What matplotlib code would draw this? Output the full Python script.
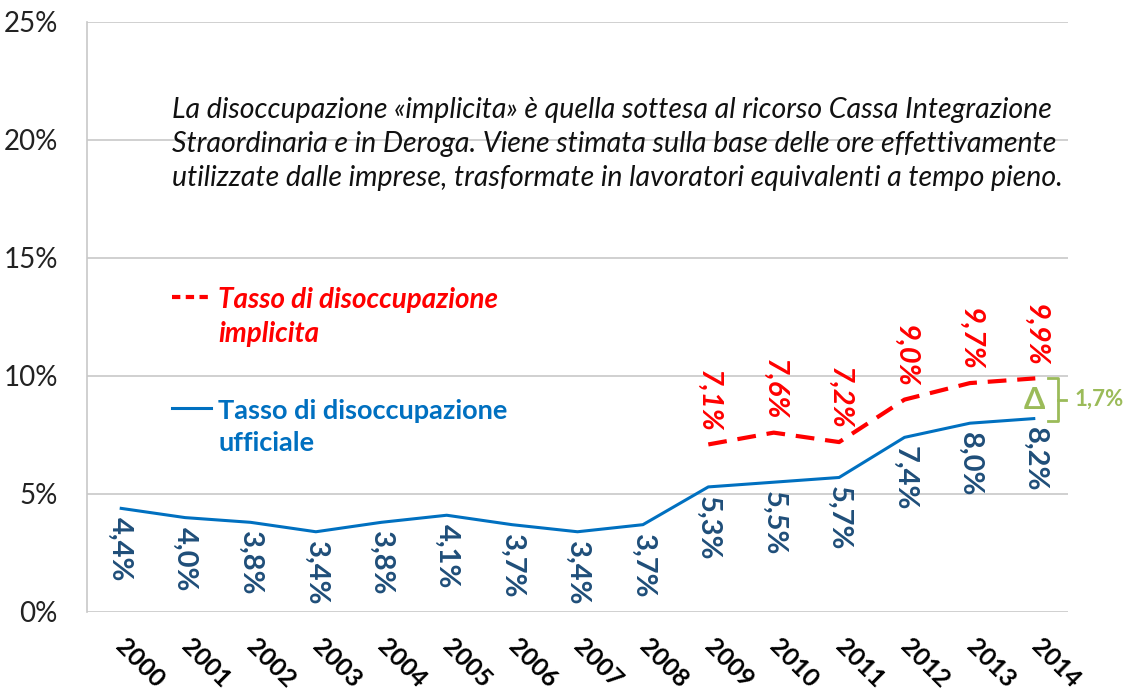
import matplotlib.pyplot as plt
from matplotlib.transforms import offset_copy

plt.rcParams['font.family'] = ['Lato', 'DejaVu Sans']

years = list(range(2000, 2015))
official = [4.4, 4.0, 3.8, 3.4, 3.8, 4.1, 3.7, 3.4, 3.7, 5.3, 5.5, 5.7, 7.4, 8.0, 8.2]
implicit_years = list(range(2009, 2015))
implicit = [7.1, 7.6, 7.2, 9.0, 9.7, 9.9]
gap_label = "1,7%"

BLUE = "#0070C0"
NAVY = "#1F4E79"
RED = "#FF0000"
GREEN = "#9BBB59"
GRID = "#C8C8C8"

W, H = 1136, 699


def pct(v):
    return f"{v:.1f}".replace(".", ",") + "%"


def fx(px):
    return px / W


def fy(py):
    return 1 - py / H


fig = plt.figure(figsize=(W / 100, H / 100), dpi=100)
ax = fig.add_axes([fx(87), fy(612), (1068 - 87) / W, (612 - 22) / H])

ax.plot(years, official, color=BLUE, lw=2.2, solid_capstyle="butt")
ax.plot(implicit_years, implicit, color=RED, lw=3, dashes=(4.5, 2.6))

ax.set_xlim(1999.5, 2014.5)
ax.set_ylim(0, 25)
ax.set_yticks(range(0, 26, 5))
ax.set_yticklabels([f"{t}%" for t in range(0, 26, 5)], fontsize=20, color="#222222")
ax.yaxis.grid(True, color=GRID, lw=1.2)
ax.set_axisbelow(True)
for side in ("top", "right", "bottom"):
    ax.spines[side].set_visible(False)
ax.spines["left"].set_color(GRID)
ax.spines["left"].set_linewidth(1.2)
ax.tick_params(length=0)
ax.tick_params(axis="y", pad=21)

ax.set_xticks(years)
ax.set_xticklabels([str(y) for y in years])
for lbl in ax.get_xticklabels():
    lbl.set_rotation(-45)
    lbl.set_rotation_mode("anchor")
    lbl.set_ha("left")
    lbl.set_va("center")
    lbl.set_fontsize(18)
    lbl.set_fontweight("bold")
    lbl.set_transform(offset_copy(lbl.get_transform(), fig=fig, x=-13, y=2, units="dots"))
ax.tick_params(axis="x", pad=22)

# value labels
for x, v in zip(years, official):
    ax.annotate(pct(v), (x, v), xytext=(0, -9), textcoords="offset pixels",
                rotation=-90, ha="center", va="top", color=NAVY,
                fontsize=21, fontweight="bold")
for x, v in zip(implicit_years, implicit):
    ax.annotate(pct(v), (x, v), xytext=(0, 12), textcoords="offset pixels",
                rotation=-90, ha="center", va="bottom", color=RED,
                fontsize=21, fontweight="bold", style="italic")

# note
fig.text(fx(172), fy(144),
         "La disoccupazione «implicita» è quella sottesa al ricorso Cassa Integrazione\n"
         "Straordinaria e in Deroga. Viene stimata sulla base delle ore effettivamente\n"
         "utilizzate dalle imprese, trasformate in lavoratori equivalenti a tempo pieno.",
         fontsize=20.5, style="italic", color="#111111",
         va="center", ha="left", linespacing=1.36)

# manual legend
fig.add_artist(plt.Line2D([fx(172), fx(211)], [fy(297)] * 2, color=RED, lw=3,
                          dashes=(2.0, 1.3)))
fig.text(fx(218), fy(317), "Tasso di disoccupazione\nimplicita", color=RED,
         fontsize=20, fontweight="bold", style="italic", va="center", ha="left",
         linespacing=1.36)
fig.add_artist(plt.Line2D([fx(172), fx(211)], [fy(408)] * 2, color=BLUE, lw=2.2))
fig.text(fx(218), fy(427), "Tasso di disoccupazione\nufficiale", color=BLUE,
         fontsize=19.5, fontweight="bold", va="center", ha="left",
         linespacing=1.36)

# gap bracket between the two series in 2014
top, bot = implicit[-1], official[-1] - 0.1
mid = (top + bot) / 2
bx = 2014.2
ax.plot([bx, bx + 0.15, bx + 0.15, bx], [top, top, bot, bot], color=GREEN, lw=2,
        clip_on=False)
ax.plot([bx + 0.15, bx + 0.27], [mid, mid], color=GREEN, lw=2, clip_on=False)
ax.text(bx - 0.05, mid, "Δ", color=GREEN, fontsize=22, fontweight="bold",
        ha="right", va="center")
ax.text(bx + 0.4, mid, gap_label, color=GREEN, fontsize=16, fontweight="bold",
        ha="left", va="center", clip_on=False)

fig.savefig("out.png", dpi=100)
